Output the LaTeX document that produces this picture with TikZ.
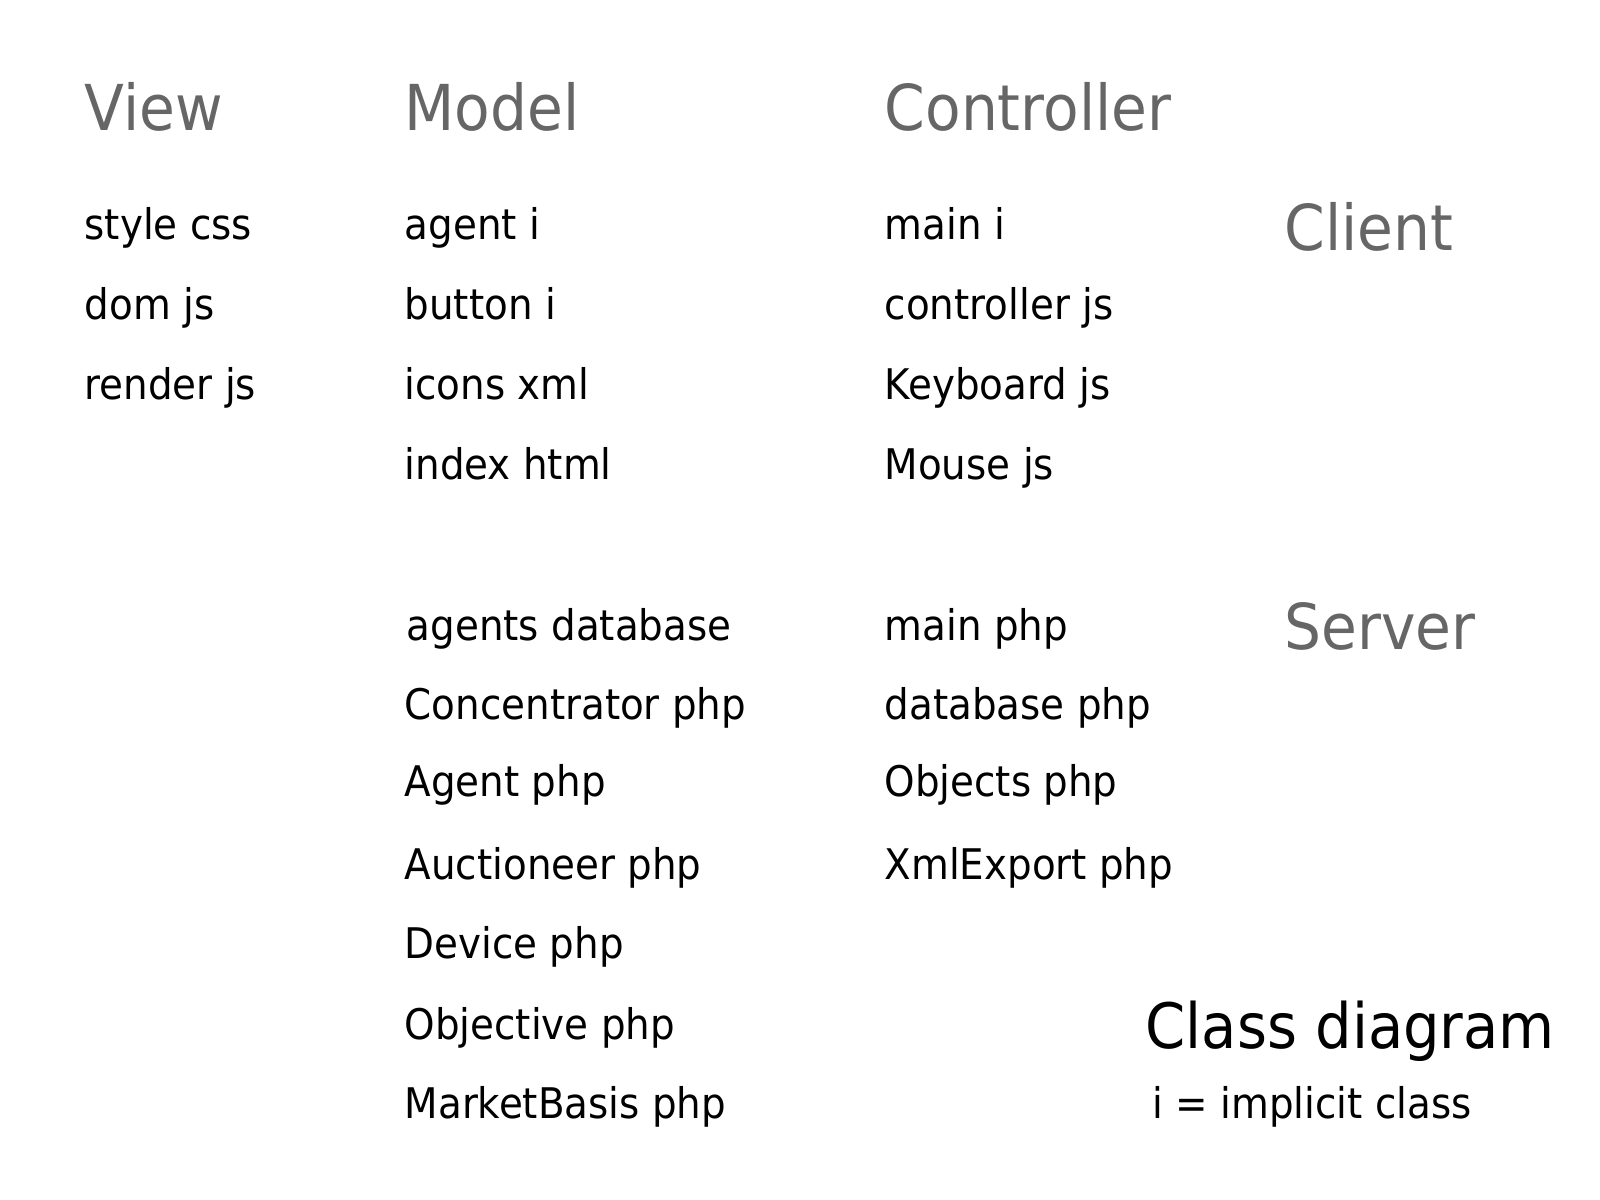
\documentclass[tikz,border=0pt]{standalone}
\usepackage{fontspec}
\setmainfont[FakeStretch=0.92]{DejaVu Sans}
\definecolor{hdrgray}{RGB}{102,102,102}
\tikzset{
    header/.style={anchor=base west, inner sep=0pt, text=hdrgray, font=\fontsize{18}{20}\selectfont},
    item/.style={anchor=base west, inner sep=0pt, text=black, font=\fontsize{12}{14}\selectfont},
    title/.style={anchor=base west, inner sep=0pt, text=black, font=\fontsize{17.8}{20}\selectfont}
}
\begin{document}
\begin{tikzpicture}[x=0.01cm, y=-0.01cm]
    \useasboundingbox (0,0) rectangle (1600,1200);

    % Column headers
    \node[header] (hview) at (84, 130) {View};
    \node[header] (hmodel) at (404, 130) {Model};
    \node[header] (hctrl) at (884, 130) {Controller};

    % Side headers
    \node[header] (hclient) at (1284, 250) {Client};
    \node[header] (hserver) at (1284, 649) {Server};

    % Client: view
    \node[item] (style) at (84, 239) {style css};
    \node[item] (dom) at (84, 319) {dom js};
    \node[item] (render) at (84, 399) {render js};

    % Client: model
    \node[item] (agenti) at (404, 239) {agent i};
    \node[item] (button) at (404, 319) {button i};
    \node[item] (icons) at (404, 399) {icons xml};
    \node[item] (index) at (404, 479) {index html};

    % Client: controller
    \node[item] (maini) at (884, 239) {main i};
    \node[item] (ctrljs) at (884, 319) {controller js};
    \node[item] (keyb) at (884, 399) {Keyboard js};
    \node[item] (mouse) at (884, 479) {Mouse js};

    % Server: model
    \node[item] (agentsdb) at (406, 640) {agents database};
    \node[item] (concent) at (404, 719) {Concentrator php};
    \node[item] (agentphp) at (404, 796) {Agent php};
    \node[item] (auction) at (404, 879) {Auctioneer php};
    \node[item] (device) at (404, 958) {Device php};
    \node[item] (objective) at (404, 1039) {Objective php};
    \node[item] (market) at (404, 1118) {MarketBasis php};

    % Server: controller
    \node[item] (mainphp) at (884, 640) {main php};
    \node[item] (dbphp) at (884, 719) {database php};
    \node[item] (objects) at (884, 796) {Objects php};
    \node[item] (xmlexp) at (884, 879) {XmlExport php};

    % Legend
    \node[title] (classdiag) at (1145, 1048) {Class diagram};
    \node[item] (legend) at (1152, 1118) {i = implicit class};
\end{tikzpicture}
\end{document}
